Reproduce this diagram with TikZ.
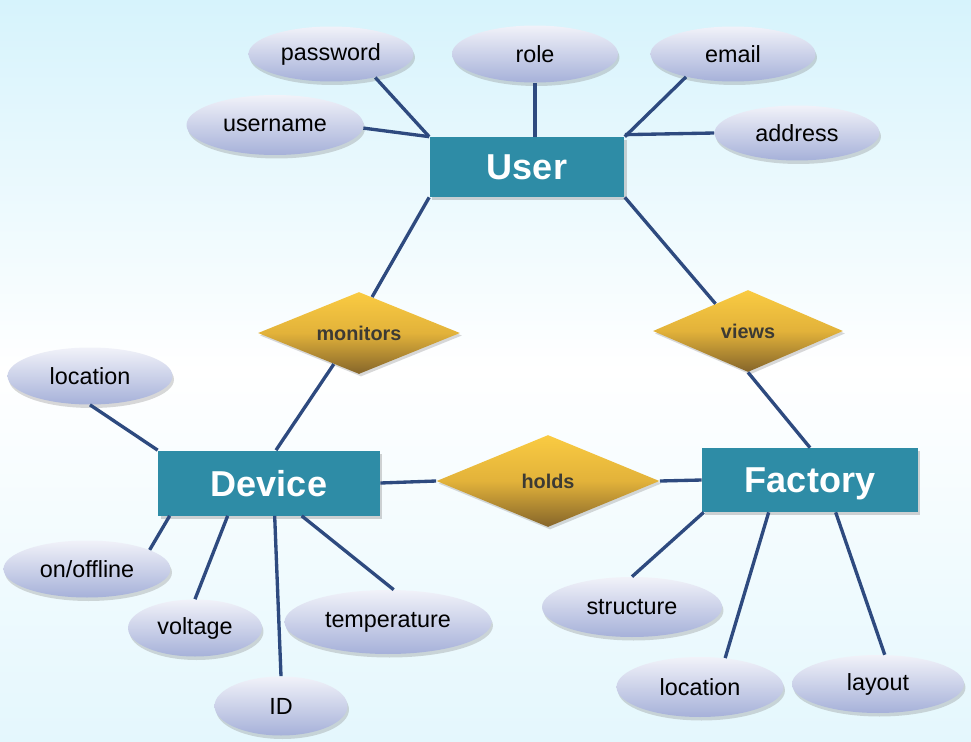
\documentclass[tikz,border=0pt]{standalone}
\usepackage{fontspec}
\setmainfont{Liberation Sans}
\usetikzlibrary{shapes.geometric,shadows,calc}

\definecolor{bgtop}{HTML}{D6F3FC}
\definecolor{bgbot}{HTML}{E4F7FD}
\definecolor{entfill}{HTML}{2E8CA6}
\definecolor{reltop}{HTML}{FACB42}
\definecolor{relmid}{HTML}{E2B23A}
\definecolor{relbot}{HTML}{85652A}
\definecolor{attrtop}{HTML}{F1F2F9}
\definecolor{attrbot}{HTML}{A6B1D9}
\definecolor{linkcol}{HTML}{2E4A7F}
\definecolor{reltext}{HTML}{3C3A34}

\tikzset{
  entity/.style={rectangle, fill=entfill, text=white, inner sep=0pt, text depth=0pt,
    font=\fontsize{20.5}{24}\selectfont\bfseries,
    drop shadow={shadow xshift=0.05cm, shadow yshift=-0.06cm, opacity=0.35}},
  relation/.style={diamond, aspect=2.5, inner sep=0pt,
    top color=reltop, bottom color=relbot, middle color=relmid,
    text=reltext, font=\fontsize{11.3}{13}\selectfont\bfseries,
    drop shadow={shadow xshift=0.04cm, shadow yshift=-0.05cm, opacity=0.3}},
  attr/.style={ellipse, inner sep=0pt,
    top color=attrtop, bottom color=attrbot,
    font=\fontsize{13.3}{16}\selectfont,
    drop shadow={shadow xshift=0.03cm, shadow yshift=-0.07cm, opacity=0.3}},
  link/.style={draw=linkcol, line width=1.9pt}
}

\begin{document}
\begin{tikzpicture}[x=0.02cm, y=-0.02cm]
  % Background
  \useasboundingbox (0,0) rectangle (971,741);
  \shade[top color=bgtop, bottom color=bgbot, middle color=white] (0,0) rectangle (971,741);

  % Entities
  \node[entity, minimum width=3.9cm, minimum height=1.2cm] (user) at (527,167) {User};
  \node[entity, minimum width=4.44cm, minimum height=1.3cm] (device) at (269,483) {Device};
  \node[entity, minimum width=4.32cm, minimum height=1.28cm] (factory) at (810,480) {Factory};

  % Relationships
  \node[relation, minimum width=4.04cm, minimum height=1.64cm] (monitors) at (359,333) {monitors};
  \node[relation, minimum width=3.8cm, minimum height=1.64cm] (views) at (748,331) {views};
  \node[relation, minimum width=4.46cm, minimum height=1.84cm] (holds) at (548,481) {holds};

  % Attributes of User
  \node[attr, minimum width=3.3cm, minimum height=1.1cm] (password) at (331,54) {password};
  \node[attr, minimum width=3.32cm, minimum height=1.14cm] (role) at (535,54) {role};
  \node[attr, minimum width=3.3cm, minimum height=1.1cm] (email) at (733,54) {email};
  \node[attr, minimum width=3.54cm, minimum height=1.2cm] (username) at (275,125) {username};
  \node[attr, minimum width=3.3cm, minimum height=1.1cm] (address) at (797,133) {address};

  % Attributes of Device
  \node[attr, minimum width=3.3cm, minimum height=1.14cm] (devloc) at (90,376) {location};
  \node[attr, minimum width=3.34cm, minimum height=1.14cm] (onoff) at (87,569) {on/offline};
  \node[attr, minimum width=2.68cm, minimum height=1.14cm] (voltage) at (195,628) {voltage};
  \node[attr, minimum width=4.14cm, minimum height=1.28cm] (temperature) at (388,622) {temperature};
  \node[attr, minimum width=2.66cm, minimum height=1.18cm] (id) at (281,706) {ID};

  % Attributes of Factory
  \node[attr, minimum width=3.6cm, minimum height=1.2cm] (structure) at (632,607) {structure};
  \node[attr, minimum width=3.34cm, minimum height=1.2cm] (facloc) at (700,687) {location};
  \node[attr, minimum width=3.44cm, minimum height=1.16cm] (layout) at (878,684) {layout};

  % Links of User
  \draw[link] (password.-28) -- (user.north west);
  \draw[link] (username.-2) -- (user.north west);
  \draw[link] (role.south) -- (role.south |- user.north);
  \draw[link] (email.-154) -- (user.north east);
  \draw[link] (address.west) -- ($(user.north east)+(0,-2)$);

  % Links of relationships
  \draw[link] (user.south west) -- (monitors.70);
  \draw[link] (monitors.-129) -- (device.78);
  \draw[link] (user.south east) -- (views.140);
  \draw[link] (views.south) -- (factory.north);
  \draw[link] (device.east) -- (holds.west);
  \draw[link] (holds.east) -- (factory.west);

  % Links of Device
  \draw[link] (devloc.south) -- (device.north west);
  \draw[link] (onoff.17) -- ($(device.south west)+(12,0)$);
  \draw[link] (voltage.north) -- ($(device.south west)+(70,0)$);
  \draw[link] (id.north) -- ($(device.south west)+(117,0)$);
  \draw[link] (temperature.80) -- ($(device.south west)+(144,0)$);

  % Links of Factory
  \draw[link] (structure.north) -- ($(factory.south west)+(2,0)$);
  \draw[link] (facloc.49) -- ($(factory.south west)+(67,0)$);
  \draw[link] (layout.77) -- ($(factory.south west)+(134,0)$);
\end{tikzpicture}
\end{document}
